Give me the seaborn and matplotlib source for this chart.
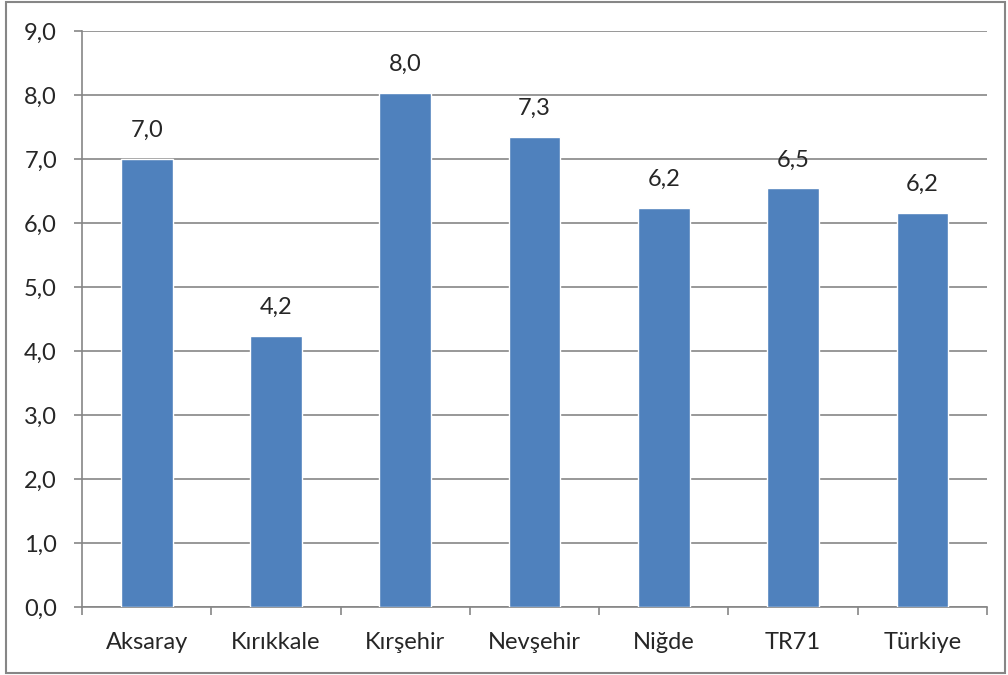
import matplotlib
matplotlib.use("Agg")
import matplotlib.pyplot as plt
import numpy as np
import pandas as pd
import seaborn as sns
from matplotlib.patches import Rectangle

categories = ["Aksaray", "Kırıkkale", "Kırşehir", "Nevşehir", "Niğde", "TR71", "Türkiye"]
values = [7.00, 4.24, 8.03, 7.34, 6.24, 6.54, 6.16]
yticks = [0, 1, 2, 3, 4, 5, 6, 7, 8, 9]

sns.set_style("white")
plt.rcParams['font.family'] = ['Lato', 'DejaVu Sans']

gray = '#868686'
df = pd.DataFrame({'region': categories, 'value': values})

fig = plt.figure(figsize=(10.08, 6.75), dpi=100)
ax = fig.add_axes([82/1008, 68/675, (987-82)/1008, (607-31)/675])
sns.barplot(data=df, x='region', y='value', color='#4F81BD', width=0.4,
            saturation=1, ax=ax, zorder=3)

ax.set_ylim(0, 9)
ax.set_xlim(-0.5, len(categories) - 0.5)
ax.set_yticks(yticks)
ax.set_yticklabels([('%.1f' % v).replace('.', ',') for v in yticks])
ax.set_xlabel('')
ax.set_ylabel('')

# gridlines
ax.yaxis.grid(True, color=gray, linewidth=1.2, zorder=0)
ax.set_axisbelow(True)

for s in ['top', 'right']:
    ax.spines[s].set_visible(False)
for s in ['left', 'bottom']:
    ax.spines[s].set_color(gray)
    ax.spines[s].set_linewidth(1.2)

ax.tick_params(axis='y', length=6, width=1.2, color=gray, pad=12, labelsize=17, left=True)
ax.tick_params(axis='x', which='major', length=0, pad=18, labelsize=17)
ax.set_xticks(np.arange(-0.5, len(categories)), minor=True)
ax.tick_params(axis='x', which='minor', length=6, width=1.2, color=gray, bottom=True)

# value labels
labels = [('%.1f' % v).replace('.', ',') for v in values]
ax.bar_label(ax.containers[0], labels=labels, padding=13, fontsize=17)

# outer border
fig.patches.append(Rectangle((6/1008, 2/675), 999/1008, 671/675, transform=fig.transFigure,
                             fill=False, edgecolor=gray, linewidth=1.5))

fig.savefig('out.png', dpi=100)
